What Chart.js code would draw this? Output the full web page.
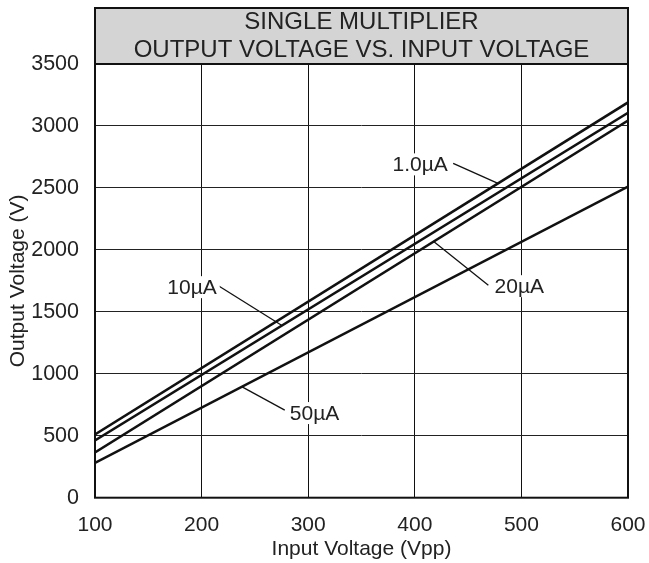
<!DOCTYPE html>
<html><head><meta charset="utf-8">
<script src="https://cdn.jsdelivr.net/npm/chart.js@4/dist/chart.umd.min.js"></script>
<style>html,body{margin:0;padding:0;background:#fff}#wrap{width:649px;height:563px}</style>
</head><body><div id="wrap"><canvas id="c" width="649" height="563"></canvas></div>
<script>
// ---- data ----
const inputVoltage = [100, 600];
const out1uA  = [510, 3190];
const out10uA = [462, 3107];
const out20uA = [365, 3043];
const out50uA = [280, 2510];
const seriesNames = ['1.0µA', '10µA', '20µA', '50µA'];
const xTicks = [100, 200, 300, 400, 500, 600];
const yTicks = [0, 500, 1000, 1500, 2000, 2500, 3000, 3500];
const titleLines = ['SINGLE MULTIPLIER', 'OUTPUT VOLTAGE VS. INPUT VOLTAGE'];
const xAxisTitle = 'Input Voltage (Vpp)';
const yAxisTitle = 'Output Voltage (V)';

// callout labels (in data units)
const calloutText = ['1.0µA', '10µA', '20µA', '50µA'];
const calloutAt   = [[405, 2690], [191, 1699], [498, 1707], [306, 683]];
const leaderFrom  = [[436, 2698], [215, 1715], [469, 1715], [278, 707]];
const leaderTo    = [[478, 2536], [275, 1392], [418, 2066], [238, 894]];

const FONT = '"Liberation Sans", Arial, Helvetica, sans-serif';
const series = [out1uA, out10uA, out20uA, out50uA];

const frameAndTitle = {
  id: 'frameAndTitle',
  afterDatasetsDraw(chart) {
    const {ctx, chartArea: a, scales} = chart;
    ctx.save();
    // callouts
    ctx.font = '21px ' + FONT;
    ctx.textAlign = 'center';
    ctx.textBaseline = 'middle';
    for (let i = 0; i < calloutText.length; i++) {
      const x1 = scales.x.getPixelForValue(leaderFrom[i][0]);
      const y1 = scales.y.getPixelForValue(leaderFrom[i][1]);
      const x2 = scales.x.getPixelForValue(leaderTo[i][0]);
      const y2 = scales.y.getPixelForValue(leaderTo[i][1]);
      ctx.strokeStyle = '#111';
      ctx.lineWidth = 1.3;
      ctx.beginPath(); ctx.moveTo(x1, y1); ctx.lineTo(x2, y2); ctx.stroke();
      const tx = scales.x.getPixelForValue(calloutAt[i][0]);
      const ty = scales.y.getPixelForValue(calloutAt[i][1]);
      const w = ctx.measureText(calloutText[i]).width;
      ctx.fillStyle = '#fff';
      ctx.fillRect(tx - w / 2 - 3, ty - 11, w + 6, 22);
      ctx.fillStyle = '#222';
      ctx.fillText(calloutText[i], tx, ty + 1);
    }
    // frame
    ctx.strokeStyle = '#111';
    ctx.lineWidth = 2;
    ctx.strokeRect(a.left, a.top, a.right - a.left, a.bottom - a.top);
    // title box
    ctx.fillStyle = '#d4d4d4';
    ctx.fillRect(a.left, 8, a.right - a.left, a.top - 8);
    ctx.strokeRect(a.left, 8, a.right - a.left, a.top - 8);
    ctx.fillStyle = '#222';
    ctx.font = '24px ' + FONT;
    const cx = (a.left + a.right) / 2;
    ctx.fillText(titleLines[0], cx, 22);
    ctx.fillText(titleLines[1], cx, 50);
    ctx.restore();
  }
};

new Chart(document.getElementById('c'), {
  type: 'line',
  data: {
    datasets: series.map((s, i) => ({
      label: seriesNames[i],
      data: inputVoltage.map((x, j) => ({x: x, y: s[j]})),
      borderColor: '#111',
      borderWidth: 2.5,
      pointRadius: 0,
      fill: false,
      tension: 0
    }))
  },
  options: {
    responsive: false,
    animation: false,
    devicePixelRatio: 1,
    layout: {padding: {top: 64, right: 21, left: 0, bottom: 0}},
    plugins: {legend: {display: false}, tooltip: {enabled: false}, title: {display: false}},
    scales: {
      x: {
        type: 'linear', min: 100, max: 600,
        afterBuildTicks: s => { s.ticks = xTicks.map(v => ({value: v})); },
        afterFit: s => { s.height = 65.3; s.paddingLeft = 0; s.paddingRight = 0; },
        grid: {color: '#111', lineWidth: 1, drawTicks: false},
        border: {display: false},
        ticks: {color: '#222', font: {family: FONT, size: 21}, padding: 15, maxRotation: 0, callback: v => String(v)},
        title: {display: true, text: xAxisTitle, color: '#222', font: {family: FONT, size: 21}, padding: {top: 0, bottom: 1}}
      },
      y: {
        type: 'linear', min: 0, max: 3500,
        afterBuildTicks: s => { s.ticks = yTicks.map(v => ({value: v})); },
        afterFit: s => { s.width = 95; s.paddingTop = 0; s.paddingBottom = 0; },
        grid: {color: '#222', lineWidth: 1, drawTicks: false},
        border: {display: false},
        ticks: {color: '#222', font: {family: FONT, size: 21.5}, padding: 16, callback: v => String(v)},
        title: {display: true, text: yAxisTitle, color: '#222', font: {family: FONT, size: 21}, padding: {top: 6, bottom: 0}}
      }
    }
  },
  plugins: [frameAndTitle]
});
</script></body></html>
